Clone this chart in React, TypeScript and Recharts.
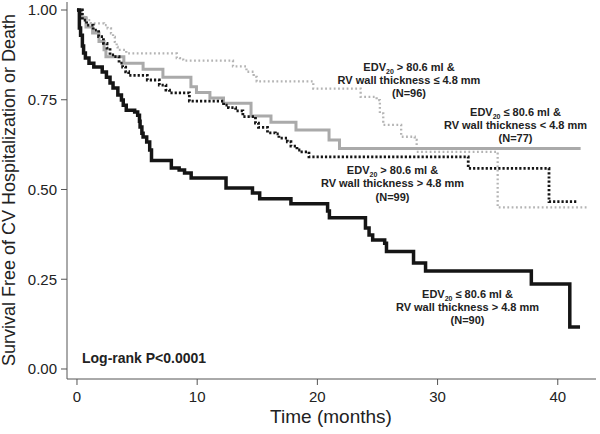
import React from 'react';
import { LineChart, Line, XAxis, YAxis } from 'recharts';

const X_TICKS = [0, 10, 20, 30, 40];
const Y_TICKS = [0, 0.25, 0.5, 0.75, 1];

// EDV20 <= 80.6 ml & RV wall thickness > 4.8 mm (N=90), black solid
const lowEdvThickTime = [0, 0.2, 0.3, 0.45, 0.55, 0.7, 1.0, 1.4, 2.1, 2.45, 2.75, 3.0, 3.4, 3.7, 3.85, 4.1, 4.8, 5.05, 5.2, 5.25, 5.4, 5.5, 5.8, 6.05, 6.2, 7.85, 8.5, 8.95, 9.5, 12.4, 14.6, 15.2, 17.8, 20.85, 21.0, 24.0, 24.3, 24.6, 25.6, 25.75, 28.0, 29.0, 37.8, 41.0, 41.85];
const lowEdvThickSurv = [1.0, 0.95, 0.93, 0.9, 0.88, 0.866, 0.852, 0.841, 0.827, 0.813, 0.797, 0.783, 0.763, 0.749, 0.735, 0.721, 0.716, 0.707, 0.69, 0.674, 0.657, 0.646, 0.632, 0.61, 0.581, 0.56, 0.554, 0.546, 0.532, 0.504, 0.49, 0.474, 0.46, 0.44, 0.421, 0.393, 0.373, 0.359, 0.35, 0.327, 0.295, 0.273, 0.237, 0.117, 0.117];

// EDV20 <= 80.6 ml & RV wall thickness < 4.8 mm (N=77), gray solid
const lowEdvThinTime = [0, 0.33, 0.75, 1.3, 1.83, 2.25, 2.41, 3.9, 5.5, 7.15, 9.48, 9.94, 11.06, 12.19, 14.48, 16.14, 18.22, 20.97, 21.84, 41.9];
const lowEdvThinSurv = [1.0, 0.979, 0.953, 0.936, 0.912, 0.889, 0.87, 0.852, 0.835, 0.813, 0.786, 0.77, 0.755, 0.74, 0.705, 0.687, 0.666, 0.638, 0.614, 0.614];

// EDV20 > 80.6 ml & RV wall thickness > 4.8 mm (N=99), black dotted
const highEdvThickTime = [0, 0.45, 0.8, 1.35, 1.8, 2.2, 2.5, 2.75, 3.1, 3.5, 3.8, 4.05, 4.3, 5.85, 6.85, 7.4, 7.7, 9.35, 12.2, 12.6, 13.2, 13.8, 14.85, 15.1, 15.85, 16.5, 16.8, 17.5, 17.8, 18.3, 18.6, 19.3, 32.55, 39.27, 41.6];
const highEdvThickSurv = [1.0, 0.972, 0.958, 0.944, 0.926, 0.907, 0.894, 0.875, 0.87, 0.852, 0.841, 0.828, 0.818, 0.805, 0.791, 0.777, 0.769, 0.746, 0.735, 0.728, 0.719, 0.703, 0.685, 0.673, 0.658, 0.655, 0.643, 0.633, 0.621, 0.61, 0.605, 0.591, 0.559, 0.466, 0.466];

// EDV20 > 80.6 ml & RV wall thickness <= 4.8 mm (N=96), gray dotted
const highEdvThinTime = [0, 0.33, 0.6, 0.9, 1.15, 2.25, 2.55, 2.83, 3.0, 3.15, 3.3, 3.38, 4.1, 8.3, 8.57, 8.84, 12.98, 14.1, 14.7, 14.95, 19.66, 23.6, 24.93, 25.2, 25.48, 26.97, 28.1, 28.26, 35.0, 42.4];
const highEdvThinSurv = [1.0, 0.986, 0.977, 0.972, 0.963, 0.958, 0.949, 0.935, 0.925, 0.911, 0.897, 0.889, 0.879, 0.866, 0.862, 0.859, 0.843, 0.828, 0.814, 0.801, 0.781, 0.758, 0.749, 0.712, 0.68, 0.647, 0.638, 0.605, 0.45, 0.45];

const toRows = (time: number[], surv: number[]) => time.map((t, i) => ({ t, s: surv[i] }));

const FONT = '"Liberation Sans", Arial, Helvetica, sans-serif';

const Edv = () => (
  <>
    EDV<span style={{ fontSize: 7, lineHeight: 0, verticalAlign: '-3px' }}>20</span>
  </>
);

const Note: React.FC<{ cx: number; y: number; first: string; second: string; n: string }> = ({ cx, y, first, second, n }) => (
  <div
    style={{
      position: 'absolute',
      left: cx - 110,
      width: 220,
      top: y - 6.5,
      textAlign: 'center',
      fontFamily: FONT,
      fontWeight: 700,
      fontSize: 11,
      lineHeight: '13.3px',
      color: '#222',
      whiteSpace: 'nowrap',
    }}
  >
    <div><Edv /> {first}</div>
    <div>{second}</div>
    <div>{n}</div>
  </div>
);

export default function App() {
  return (
    <div style={{ position: 'absolute', left: 0, top: 0, width: 600, height: 434, background: '#fff' }}>
      <LineChart width={600} height={434} margin={{ top: 2, right: 4, bottom: 0, left: 0 }}>
        <XAxis
          dataKey="t"
          type="number"
          domain={[-0.83, 43.18]}
          ticks={X_TICKS}
          height={55}
          tickSize={6}
          tickMargin={6}
          stroke="#555"
          tick={{ fontSize: 15, fill: '#222', fontFamily: FONT }}
          allowDataOverflow
        />
        <YAxis
          type="number"
          domain={[-0.0279, 1.0223]}
          ticks={Y_TICKS}
          width={67}
          tickSize={6}
          tickMargin={4}
          stroke="#555"
          tickFormatter={(v: number) => v.toFixed(2)}
          tick={{ fontSize: 15, fill: '#222', fontFamily: FONT }}
          allowDataOverflow
        />
        <Line data={toRows(highEdvThinTime, highEdvThinSurv)} dataKey="s" type="stepAfter" stroke="#b4b4b4" strokeWidth={2.3} strokeDasharray="1.8 2.5" dot={false} activeDot={false} isAnimationActive={false} />
        <Line data={toRows(lowEdvThinTime, lowEdvThinSurv)} dataKey="s" type="stepAfter" stroke="#aaaaaa" strokeWidth={3} dot={false} activeDot={false} isAnimationActive={false} />
        <Line data={toRows(highEdvThickTime, highEdvThickSurv)} dataKey="s" type="stepAfter" stroke="#151515" strokeWidth={2.8} strokeDasharray="2.2 2" dot={false} activeDot={false} isAnimationActive={false} />
        <Line data={toRows(lowEdvThickTime, lowEdvThickSurv)} dataKey="s" type="stepAfter" stroke="#151515" strokeWidth={3.5} dot={false} activeDot={false} isAnimationActive={false} />
      </LineChart>

      <Note cx={409} y={67} first="> 80.6 ml &" second="RV wall thickness ≤ 4.8 mm" n="(N=96)" />
      <Note cx={515.5} y={112} first="≤ 80.6 ml &" second="RV wall thickness < 4.8 mm" n="(N=77)" />
      <Note cx={392.5} y={170.5} first="> 80.6 ml &" second="RV wall thickness > 4.8 mm" n="(N=99)" />
      <Note cx={467.5} y={294} first="≤ 80.6 ml &" second="RV wall thickness > 4.8 mm" n="(N=90)" />

      <div style={{ position: 'absolute', left: 82, top: 350, fontFamily: FONT, fontWeight: 700, fontSize: 14, lineHeight: '16px', color: '#222', whiteSpace: 'nowrap' }}>
        Log-rank P&lt;0.0001
      </div>

      <div style={{ position: 'absolute', left: 231, width: 200, top: 406, textAlign: 'center', fontFamily: FONT, fontSize: 19, lineHeight: '22px', color: '#222' }}>
        Time (months)
      </div>

      <div
        style={{
          position: 'absolute',
          left: 9,
          top: 190,
          transform: 'translate(-50%, -50%) rotate(-90deg)',
          fontFamily: FONT,
          fontSize: 18,
          lineHeight: '20px',
          color: '#222',
          whiteSpace: 'nowrap',
        }}
      >
        Survival Free of CV Hospitalization or Death
      </div>
    </div>
  );
}
